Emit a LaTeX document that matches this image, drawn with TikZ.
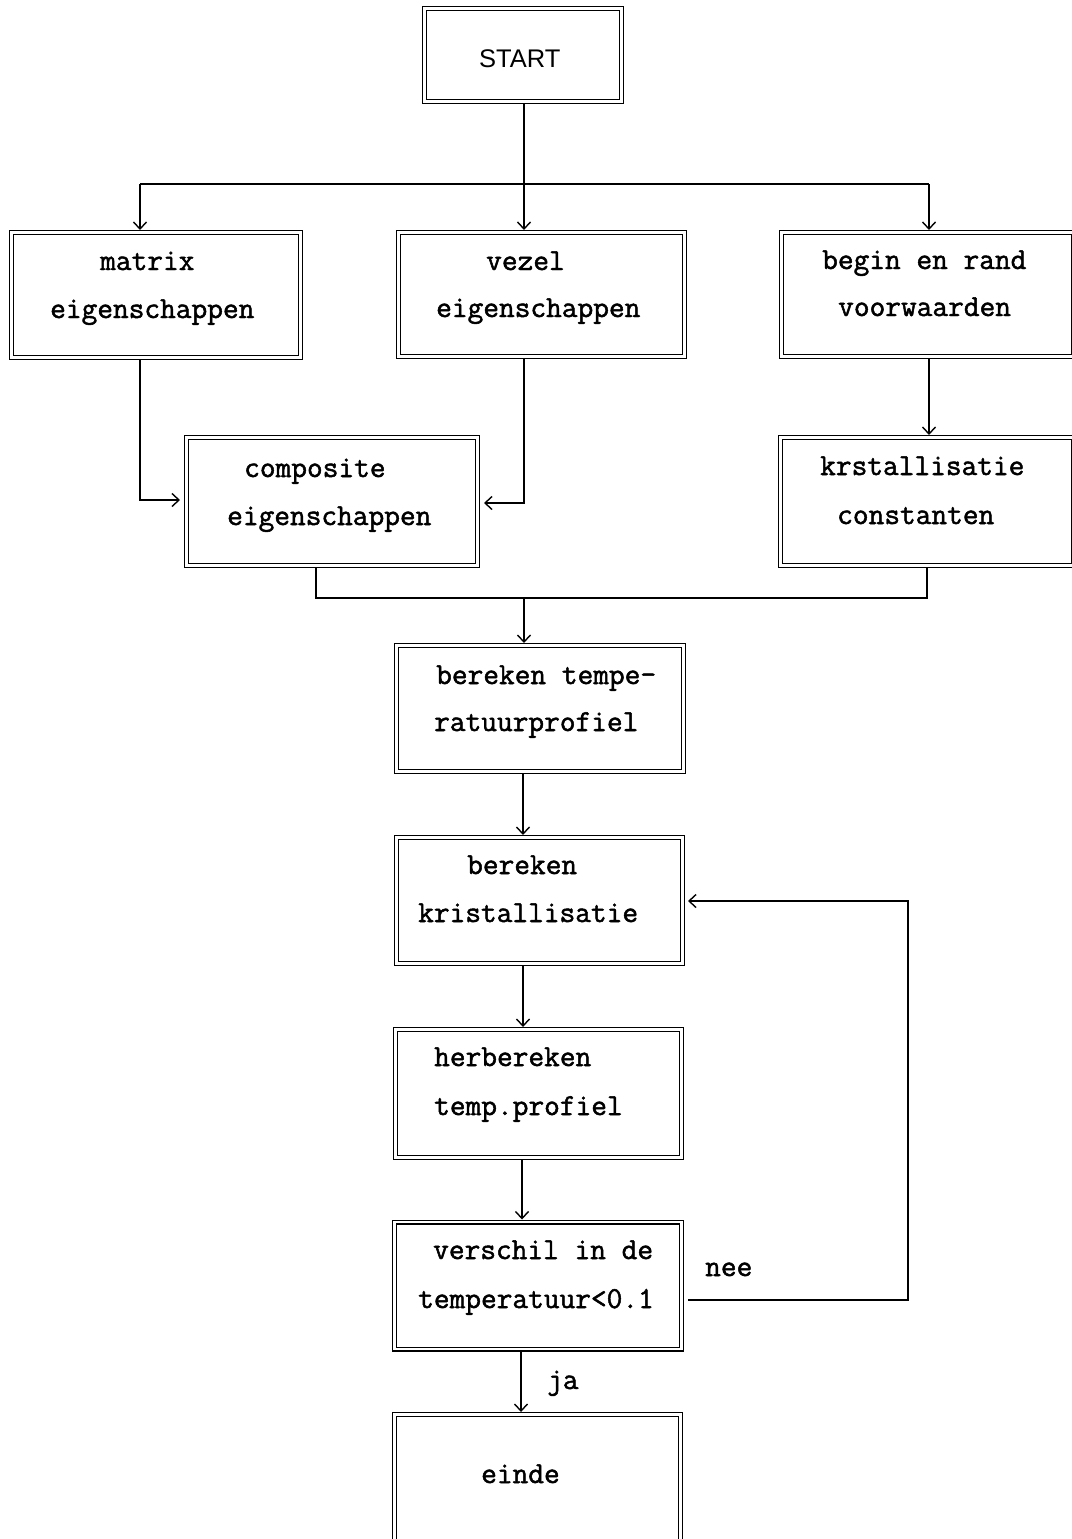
\documentclass[tikz,border=0pt]{standalone}
\usepackage{fontspec}
\newfontfamily\twfont[FakeBold=1.6]{Latin Modern Mono}
\setsansfont{Liberation Sans}
\usetikzlibrary{arrows.meta}
\begin{document}
\begin{tikzpicture}[x=1pt,y=-1pt,
  box/.style={draw, line width=1.3pt, double, double distance=2.4pt, minimum width=#1, inner sep=0pt, outer sep=2.5pt},
  box/.default=286pt,
  txt/.style={anchor=base west, inner sep=0pt, font=\fontsize{30.5}{34}\twfont},
  conn/.style={line width=1.4pt},
  arr/.style={conn, -{Straight Barb[length=7pt,width=13pt,line width=1.4pt]}}
]
\useasboundingbox[fill=white] (0,0) rectangle (1071,1539);

% boxes (centerline dimensions)
\node[box=197pt, minimum height=93pt] (start) at (523,55) {};
\node[box=289pt, minimum height=125pt] (matrix) at (156,295) {};
\node[box=286pt, minimum height=124pt] (vezel) at (541.5,294.5) {};
\node[box=292pt, minimum height=124pt] (begin) at (927.5,294.5) {};
\node[box=291pt, minimum height=128pt] (comp) at (332,501.5) {};
\node[box=293pt, minimum height=128pt] (krst) at (927,501.5) {};
\node[box=287pt, minimum height=126pt] (tempe) at (540,708.5) {};
\node[box=286pt, minimum height=126pt] (krist) at (539.5,900.5) {};
\node[box=286pt, minimum height=128pt] (herb) at (538.5,1093.5) {};
\node[box=287pt, minimum height=127pt] (versch) at (538,1285.5) {};
\node[box=286pt, minimum height=128pt] (einde) at (537.5,1478.5) {};

% texts
\node[anchor=base west, inner sep=0pt, font=\fontsize{25.5}{28}\sffamily] (tstart) at (479,67) {START};
\node[txt] (tm1) at (100,270) {matrix};
\node[txt] (tm2) at (50,318) {eigenschappen};
\node[txt] (tv1) at (486,270) {vezel};
\node[txt] (tv2) at (436,317) {eigenschappen};
\node[txt] (tb1) at (822,269) {begin en rand};
\node[txt] (tb2) at (838,316) {voorwaarden};
\node[txt] (tc1) at (244,477) {composite};
\node[txt] (tc2) at (227,525) {eigenschappen};
\node[txt] (tk1) at (820,475) {krstallisatie};
\node[txt] (tk2) at (837,524) {constanten};
\node[txt] (tt1) at (436,684) {bereken tempe-};
\node[txt] (tt2) at (434,731) {ratuurprofiel};
\node[txt] (tr1) at (467,874) {bereken};
\node[txt] (tr2) at (418,922) {kristallisatie};
\node[txt] (th1) at (434,1066) {herbereken};
\node[txt] (th2) at (434,1115) {temp.profiel};
\node[txt] (ts1) at (433,1259) {verschil in de};
\node[txt] (ts2) at (418,1308) {temperatuur<0.1};
\node[txt] (te1) at (481,1483) {einde};
\node[txt] (tnee) at (705,1276) {nee};
\node[txt] (tja) at (547,1389) {ja};

% junction coordinates
\coordinate (j1) at (524,184);
\coordinate (hl) at (140,184);
\coordinate (hr) at (929,184);
\coordinate (c1) at (316,598);
\coordinate (c2) at (927,598);
\coordinate (j2) at (524,598);
\coordinate (v1) at (523,0);
\coordinate (v2) at (522,0);
\coordinate (v3) at (521,0);
\coordinate (n1) at (908,1300);
\coordinate (n2) at (908,901);
\coordinate (m1) at (140,500);
\coordinate (z1) at (524,503);

% connectors
\draw[conn] (start.south -| j1) -- (j1);
\draw[conn] (hl) -- (hr);
\draw[arr] (hl) -- (hl |- matrix.north);
\draw[arr] (j1) -- (j1 |- vezel.north);
\draw[arr] (hr) -- (hr |- begin.north);
\draw[arr] (matrix.south -| m1) -- (m1) -- ([xshift=-4pt]m1 -| comp.west);
\draw[arr] (vezel.south -| z1) -- (z1) -- ([xshift=4pt]z1 -| comp.east);
\draw[arr] (begin.south -| hr) -- (krst.north -| hr);
\draw[conn] (comp.south -| c1) -- (c1) -- (c2) -- (krst.south -| c2);
\draw[arr] (j2) -- (j2 |- tempe.north);
\draw[arr] (tempe.south -| v1) -- (krist.north -| v1);
\draw[arr] (krist.south -| v1) -- (herb.north -| v1);
\draw[arr] (herb.south -| v2) -- (versch.north -| v2);
\draw[arr] (versch.south -| v3) -- (einde.north -| v3);
\draw[arr] ([xshift=4pt]n1 -| versch.east) -- (n1) -- (n2) -- ([xshift=3pt]n2 -| krist.east);
\end{tikzpicture}
\end{document}
